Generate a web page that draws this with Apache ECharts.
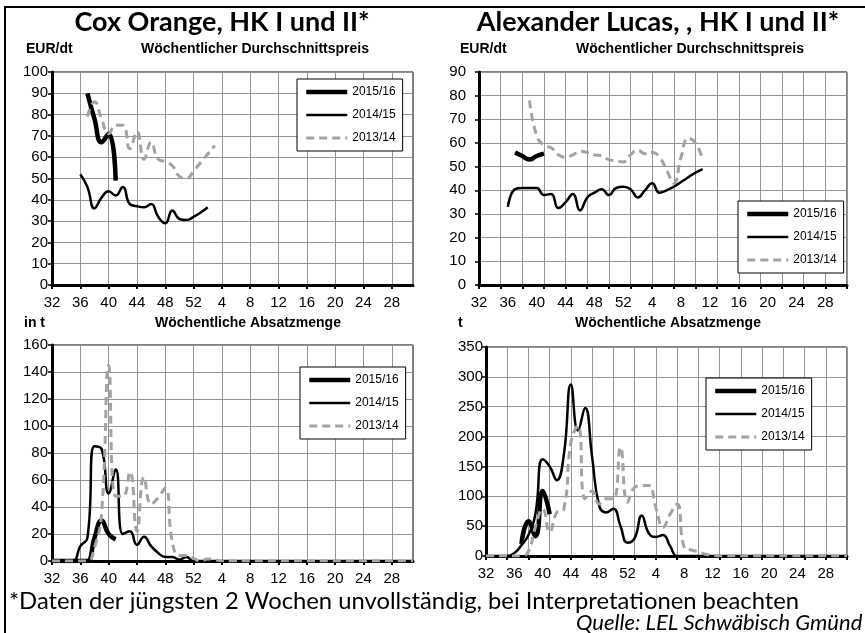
<!DOCTYPE html>
<html>
<head>
<meta charset="utf-8">
<script src="https://cdn.jsdelivr.net/npm/echarts@6/dist/echarts.min.js"></script>
<style>
html,body{margin:0;padding:0;background:#fff;}
#chart{width:865px;height:633px;}
</style>
</head>
<body>
<div id="chart"></div>
<script>
const _ = null;
// Week labels of the season (week 32 .. week 31 of the following year)
const weeks = [32,33,34,35,36,37,38,39,40,41,42,43,44,45,46,47,48,49,50,51,52,1,2,3,4,5,6,7,8,9,10,11,12,13,14,15,16,17,18,19,20,21,22,23,24,25,26,27,28,29,30,31];
const seasons = ['2015/16','2014/15','2013/14'];

// Cox Orange – weekly average price (EUR/dt)
const coxPrice1516 = [_,_,_,_,_,90,78,67,71,49,_,_,_, _,_,_,_,_,_,_,_,_,_,_,_,_, _,_,_,_,_,_,_,_,_,_,_,_,_, _,_,_,_,_,_,_,_,_,_,_,_,_];
const coxPrice1415 = [_,_,_,_,52,46,36,41,44,42,46,38,37, 36.5,38,32,29,35,31,30.5,32,34,36.5,_,_,_, _,_,_,_,_,_,_,_,_,_,_,_,_, _,_,_,_,_,_,_,_,_,_,_,_,_];
const coxPrice1314 = [_,_,_,_,_,79,86,78,71,75,75,64,72, 59,67,59,58,56,51,50,53.5,57.5,61.5,65.5,_,_, _,_,_,_,_,_,_,_,_,_,_,_,_, _,_,_,_,_,_,_,_,_,_,_,_,_];

// Alexander Lucas – weekly average price (EUR/dt)
const lucPrice1516 = [_,_,_,_,_,56,54.5,53,54.5,55.5,_,_,_, _,_,_,_,_,_,_,_,_,_,_,_,_, _,_,_,_,_,_,_,_,_,_,_,_,_, _,_,_,_,_,_,_,_,_,_,_,_,_];
const lucPrice1415 = [_,_,_,_,33,40.5,41,41,41,38,38.5,32.5,35, 38.5,31.5,37,39,40.5,38,41,41.5,40.5,37,40,43,39, 40,41.5,43.5,45.5,47.5,49,_,_,_,_,_,_,_, _,_,_,_,_,_,_,_,_,_,_,_,_];
const lucPrice1314 = [_,_,_,_,_,_,_,78,63,59,58,55,54, 55,56.5,56,55,54.5,53,52.5,52,55,57,55.5,56,54, 48.5,43,54,62,60,53,_,_,_,_,_,_,_, _,_,_,_,_,_,_,_,_,_,_,_,_];

// Cox Orange – weekly sales volume (t)
const coxVol1516 = [0,0,0,0,0,0,17,30,20,16,_,_,_, _,_,_,_,_,_,_,_,_,_,_,_,_, _,_,_,_,_,_,_,_,_,_,_,_,_, _,_,_,_,_,_,_,_,_,_,_,_,_];
const coxVol1415 = [0,0,0,0,11,17,85,83,50,68,20,22,12, 18,11,6,3,3,1,3,0,0,0,0,0,0, 0,0,0,0,0,0,0,0,0,0,0,0,0, 0,0,0,0,0,0,0,0,0,0,0,0,0];
const coxVol1314 = [0,0,0,0,0,0,10,35,145,48,48,66,22, 62,42,47,54,14,4,4,2,0,1.5,1,0,0, 0,0,0,0,0,0,0,0,0,0,0,0,0, 0,0,0,0,0,0,0,0,0,0,0,0,0];

// Alexander Lucas – weekly sales volume (t)
const lucVol1516 = [_,_,_,_,_,20,58,33,109,70,_,_,_, _,_,_,_,_,_,_,_,_,_,_,_,_, _,_,_,_,_,_,_,_,_,_,_,_,_, _,_,_,_,_,_,_,_,_,_,_,_,_];
const lucVol1415 = [0,0,0,0,5,18,35,72,162,150,127,170,287, 210,248,165,84,73,79,50,22,30,68,38,32,35, 17,0,0,0,0,0,0,0,0,0,0,0,0, 0,0,0,0,0,0,0,0,0,0,0,0,0];
const lucVol1314 = [0,0,0,0,0,0,8,50,79,40,73,79,190, 218,96,109,87,96,96,182,90,115,118,118,81,48, 70,87,15,10,7,3,1,0,0,0,0,0,0, 0,0,0,0,0,0,0,0,0,0,0,0,0];

const panels = [
  {grid:{left:52, top:72, width:361, height:213}, max:100, step:10, tick:3, ylm:4, legend:{left:297, top:79}, data:[coxPrice1516, coxPrice1415, coxPrice1314]},
  {grid:{left:479, top:72, width:368, height:213}, max:90, step:10, tick:2, ylm:13, legend:{left:738, top:201}, data:[lucPrice1516, lucPrice1415, lucPrice1314]},
  {grid:{left:52, top:345, width:361, height:216}, max:160, step:20, tick:3, ylm:4, legend:{left:300, top:367}, data:[coxVol1516, coxVol1415, coxVol1314]},
  {grid:{left:486, top:347, width:361, height:209}, max:350, step:50, tick:2, ylm:3, legend:{left:706, top:378}, data:[lucVol1516, lucVol1415, lucVol1314]}
];

const styles = {
  '2015/16': {color:'#000', width:4.5, type:'solid'},
  '2014/15': {color:'#000', width:2.5, type:'solid'},
  '2013/14': {color:'#a3a3a3', width:3, type:[8,5]}
};

const AX = 'Liberation Sans';
const grids = [], xAxes = [], yAxes = [], series = [], legends = [];
panels.forEach((p, k) => {
  grids.push(Object.assign({show:true, borderColor:'#000', borderWidth:1, backgroundColor:'#fff'}, p.grid));
  xAxes.push({
    type:'category', gridIndex:k, data:weeks.map(String), boundaryGap:false,
    axisLine:{show:true, lineStyle:{color:'#000', width:3}},
    axisTick:{show:true, interval:p.tick, length:4, lineStyle:{color:'#000', width:2}},
    axisLabel:{interval:3, color:'#000', fontFamily:AX, fontSize:15, margin:10},
    splitLine:{show:true, interval:p.tick, lineStyle:{color:'#959595', width:1}}
  });
  yAxes.push({
    type:'value', gridIndex:k, min:0, max:p.max, interval:p.step,
    axisLine:{show:true, lineStyle:{color:'#000', width:3}},
    axisTick:{show:true, length:4, lineStyle:{color:'#000', width:1.5}},
    axisLabel:{color:'#000', fontFamily:AX, fontSize:15, margin:p.ylm},
    splitLine:{show:true, lineStyle:{color:'#959595', width:1}}
  });
  seasons.forEach((s, j) => {
    const st = styles[s];
    series.push({
      name:s, type:'line', xAxisIndex:k, yAxisIndex:k, data:p.data[j],
      smooth:0.5, symbol:'none', showSymbol:false, connectNulls:false,
      color:st.color,
      lineStyle:{color:st.color, width:st.width, type:st.type, cap:'butt', join:'round'}
    });
  });
  legends.push({
    left:p.legend.left, top:p.legend.top, orient:'vertical',
    data:seasons, itemWidth:41, itemHeight:12, itemGap:11, itemTextGap:2,
    padding:[7,7,7,7], borderColor:'#000', borderWidth:1, backgroundColor:'#fff',
    selectedMode:false,
    itemStyle:{color:'rgba(0,0,0,0)', borderWidth:0, opacity:0},
    lineStyle:{width:'inherit', type:'inherit', opacity:1},
    textStyle:{color:'#000', fontFamily:AX, fontSize:12}
  });
});

function txt(x, y, text, font, align) {
  return {type:'text', x:x, y:y, z:10, style:{text:text, fill:'#000', align:align||'left', verticalAlign:'middle',
    fontFamily:font.family, fontSize:font.size, fontWeight:font.weight||'normal', fontStyle:font.style||'normal'}};
}
const T = {family:'Lato', size:27, weight:'bold'};
const S = {family:AX, size:14, weight:'bold'};
const graphics = [
  {type:'line', z:10, shape:{x1:4, y1:7, x2:865, y2:7}, style:{stroke:'#000', lineWidth:2}},
  {type:'line', z:10, shape:{x1:5, y1:6, x2:5, y2:633}, style:{stroke:'#000', lineWidth:2}},
  txt(222, 22, 'Cox Orange, HK I und II*', T, 'center'),
  txt(658, 22, 'Alexander Lucas, , HK I und II*', T, 'center'),
  txt(26, 49, 'EUR/dt', S),
  txt(255, 49, 'Wöchentlicher Durchschnittspreis', S, 'center'),
  txt(460, 49, 'EUR/dt', S),
  txt(690, 49, 'Wöchentlicher Durchschnittspreis', S, 'center'),
  txt(24, 323, 'in t', S),
  txt(248, 323, 'Wöchentliche Absatzmenge', S, 'center'),
  txt(458, 323, 't', S),
  txt(668, 323, 'Wöchentliche Absatzmenge', S, 'center'),
  txt(9, 601, '*Daten der jüngsten 2 Wochen unvollständig, bei Interpretationen beachten', {family:'Lato', size:23.8}),
  txt(576, 623, 'Quelle: LEL Schwäbisch Gmünd', {family:'Lato', size:22, style:'italic'})
];

const chart = echarts.init(document.getElementById('chart'), null, {renderer:'canvas'});
chart.setOption({
  animation:false,
  backgroundColor:'#fff',
  grid:grids, xAxis:xAxes, yAxis:yAxes, series:series, legend:legends,
  graphic:graphics
});
</script>
</body>
</html>
